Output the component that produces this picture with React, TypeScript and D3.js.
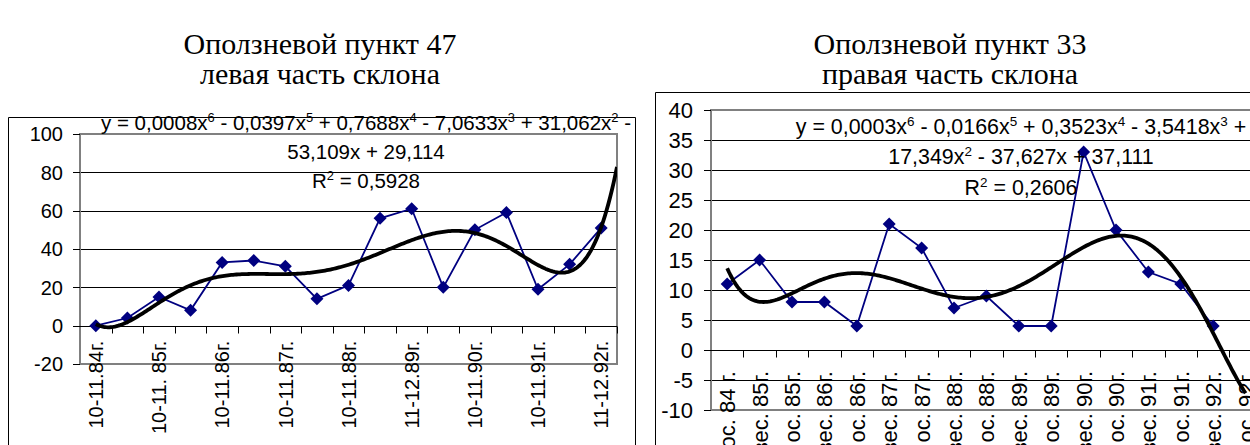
import React from 'react';
import * as d3 from 'd3';

// ---- data ----
const leftValues = [0, 4, 15, 8, 33, 34, 31, 14, 21, 56, 61, 20, 50, 59, 19, 32, 51];
const leftTickLabels = [
  '10-11.84г.', '10-11. 85г.', '10-11.86г.', '10-11.87г.', '10-11.88г.',
  '11-12.89г.', '10-11.90г.', '10-11.91г.', '11-12.92г.',
];
const leftYTicks = [-20, 0, 20, 40, 60, 80, 100];

const rightValues = [11, 15, 8, 8, 4, 21, 17, 7, 9, 4, 4, 33, 20, 13, 11, 4];
const rightTickLabels = [
  'ос. 84 г.', 'вес. 85г.', 'ос. 85г.', 'вес. 86г.', 'ос. 86г.', 'вес. 87г.',
  'ос. 87г.', 'вес. 88г.', 'ос. 88г.', 'вес. 89г.', 'ос. 89г.', 'вес. 90г.',
  'ос. 90г.', 'вес. 91г.', 'ос. 91г.', 'вес. 92г.', 'ос. 92г.',
];
const rightYTicks = [-10, -5, 0, 5, 10, 15, 20, 25, 30, 35, 40];

// equation text: [text, isSuperscript]
type Seg = [string, boolean?];
const leftEquation: Seg[][] = [
  [['y = 0,0008x'], ['6', true], [' - 0,0397x'], ['5', true], [' + 0,7688x'], ['4', true],
    [' - 7,0633x'], ['3', true], [' + 31,062x'], ['2', true], [' -']],
  [['53,109x + 29,114']],
  [['R'], ['2', true], [' = 0,5928']],
];
const rightEquation: Seg[][] = [
  [['y = 0,0003x'], ['6', true], [' - 0,0166x'], ['5', true], [' + 0,3523x'], ['4', true],
    [' - 3,5418x'], ['3', true], [' +']],
  [['17,349x'], ['2', true], [' - 37,627x + 37,111']],
  [['R'], ['2', true], [' = 0,2606']],
];

const leftTitle = ['Оползневой пункт 47', 'левая часть склона'];
const rightTitle = ['Оползневой пункт 33', 'правая часть склона'];

// least squares polynomial (what the spreadsheet trendline does)
function polyfit(xs: number[], ys: number[], deg: number) {
  const n = deg + 1;
  const mid = (d3.min(xs)! + d3.max(xs)!) / 2;
  const half = (d3.max(xs)! - d3.min(xs)!) / 2;
  const A = Array.from({ length: n }, () => new Array(n + 1).fill(0));
  xs.forEach((x, k) => {
    const t = (x - mid) / half;
    const p = d3.range(n).map(i => Math.pow(t, i));
    for (let i = 0; i < n; i++) {
      for (let j = 0; j < n; j++) A[i][j] += p[i] * p[j];
      A[i][n] += p[i] * ys[k];
    }
  });
  for (let c = 0; c < n; c++) {
    let piv = c;
    for (let r = c + 1; r < n; r++) if (Math.abs(A[r][c]) > Math.abs(A[piv][c])) piv = r;
    [A[c], A[piv]] = [A[piv], A[c]];
    for (let r = 0; r < n; r++) {
      if (r === c) continue;
      const f = A[r][c] / A[c][c];
      for (let k = c; k <= n; k++) A[r][k] -= f * A[c][k];
    }
  }
  const coef = A.map((row, i) => row[n] / row[i]);
  return (x: number) => {
    const t = (x - mid) / half;
    return coef.reduce((s, c, i) => s + c * Math.pow(t, i), 0);
  };
}

const AXIS_FONT = '"Liberation Sans", Arial, sans-serif';
const TITLE_FONT = '"Liberation Serif", "Times New Roman", serif';

interface ChartProps {
  id: string;
  frame: { x: number; y: number; right: number };
  plot: { left: number; top: number; right: number; bottom: number };
  yDomain: [number, number];
  yTicks: number[];
  nCats: number;
  values: number[];
  tickLabels: string[];
  labelStep: number;
  labelGap: number;
  tickGap: number;
  fontSize: number;
  eqFontSize: number;
  trendEnd: number;
  equation: Seg[][];
  eqX: number;
  eqY: number[];
  title: string[];
  titleX: number;
}

const Chart: React.FC<ChartProps> = p => {
  const { plot } = p;
  const y = d3.scaleLinear().domain(p.yDomain).range([plot.bottom, plot.top]);
  const cats = d3.range(1, p.nCats + 1);
  const x = d3.scaleBand<number>().domain(cats).range([plot.left, plot.right]);
  const xc = (c: number) => (x(c) || 0) + x.bandwidth() / 2;
  const xl = d3.scaleLinear().domain([0.5, p.nCats + 0.5]).range([plot.left, plot.right]);

  const xs = p.values.map((_, i) => i + 1);
  const fit = polyfit(xs, p.values, 6);
  const trendPts = d3.range(0, 301).map(k => {
    const t = 1 + ((p.trendEnd - 1) * k) / 300;
    return [xl(t), y(fit(t))] as [number, number];
  });
  const line = d3.line();
  const dataPts = p.values.map((v, i) => [xc(i + 1), y(v)] as [number, number]);
  const y0 = Math.round(y(0)) + 0.5;

  return (
    <g>
      {p.title.map((t, i) => (
        <text key={i} x={p.titleX} y={54 + i * 30} textAnchor="middle"
          fontFamily={TITLE_FONT} fontSize={30}>{t}</text>
      ))}
      <path d={`M${p.frame.x + 0.5},450V${p.frame.y + 0.5}H${p.frame.right + 0.5}V450`}
        fill="none" stroke="#000" strokeWidth={1} />
      <clipPath id={`clip-${p.id}`}>
        <rect x={plot.left} y={plot.top - 2} width={plot.right - plot.left} height={plot.bottom - plot.top + 4} />
      </clipPath>
      {/* gridlines */}
      {p.yTicks.map(t => (
        <line key={t} x1={plot.left} x2={plot.right} y1={Math.round(y(t)) + 0.5} y2={Math.round(y(t)) + 0.5}
          stroke="#000" strokeWidth={1} />
      ))}
      {/* plot border */}
      <rect x={plot.left} y={plot.top} width={plot.right - plot.left} height={plot.bottom - plot.top}
        fill="none" stroke="#808080" strokeWidth={2} />
      {/* y ticks */}
      {p.yTicks.map(t => (
        <g key={t}>
          <line x1={plot.left - 7} x2={plot.left} y1={Math.round(y(t)) + 0.5} y2={Math.round(y(t)) + 0.5}
            stroke="#000" strokeWidth={1} />
          <text x={plot.left - p.tickGap} y={y(t)} dy="0.36em" textAnchor="end"
            fontFamily={AXIS_FONT} fontSize={p.fontSize}>{t}</text>
        </g>
      ))}
      {/* x axis at zero */}
      <line x1={plot.left} x2={plot.right} y1={y0} y2={y0} stroke="#000" strokeWidth={1} />
      {cats.map(c => (
        <line key={c} x1={Math.round(x(c)! + x.bandwidth()) + 0.5} x2={Math.round(x(c)! + x.bandwidth()) + 0.5}
          y1={y0} y2={y0 + 7} stroke="#000" strokeWidth={1} />
      ))}
      {p.tickLabels.map((l, i) => {
        const cx = xc(1 + i * p.labelStep);
        const ly = y(0) + p.labelGap;
        return (
          <text key={i} x={cx} y={ly} dy="0.36em" textAnchor="end"
            transform={`rotate(-90,${cx},${ly})`} fontFamily={AXIS_FONT} fontSize={p.fontSize}>{l}</text>
        );
      })}
      {/* series */}
      <g clipPath={`url(#clip-${p.id})`}>
        <path d={line(dataPts) || ''} fill="none" stroke="#000080" strokeWidth={1.8} />
        {dataPts.map(([px, py], i) => (
          <path key={i} d={`M${px},${py - 6.5}L${px + 6.5},${py}L${px},${py + 6.5}L${px - 6.5},${py}Z`}
            fill="#000080" />
        ))}
        <path d={line(trendPts) || ''} fill="none" stroke="#000" strokeWidth={3.8} strokeLinejoin="round" />
      </g>
      {/* trendline label */}
      {p.equation.map((segs, i) => (
        <text key={i} x={p.eqX} y={p.eqY[i]} textAnchor="middle" fontFamily={AXIS_FONT} fontSize={p.eqFontSize}>
          {segs.map(([s, sup], j) =>
            sup ? (
              <tspan key={j} fontSize={p.eqFontSize * 0.63} baselineShift="65%">{s}</tspan>
            ) : (
              <tspan key={j}>{s}</tspan>
            )
          )}
        </text>
      ))}
    </g>
  );
};

export default function App() {
  return (
    <svg width={1250} height={445} style={{ position: 'absolute', left: 0, top: 0, background: '#fff' }}>
      <rect width={1250} height={445} fill="#fff" />
      <Chart
        id="l"
        frame={{ x: 8, y: 117, right: 635 }}
        plot={{ left: 80, top: 134, right: 617, bottom: 364 }}
        yDomain={[-20, 100]}
        yTicks={leftYTicks}
        nCats={leftValues.length}
        values={leftValues}
        tickLabels={leftTickLabels}
        labelStep={2}
        labelGap={15}
        tickGap={17}
        fontSize={20}
        eqFontSize={20.5}
        trendEnd={17.5}
        equation={leftEquation}
        eqX={366}
        eqY={[130, 159, 188]}
        title={leftTitle}
        titleX={320}
      />
      <Chart
        id="r"
        frame={{ x: 655, y: 92, right: 1300 }}
        plot={{ left: 711, top: 110, right: 711 + 17 * 32.4, bottom: 410 }}
        yDomain={[-10, 40]}
        yTicks={rightYTicks}
        nCats={rightTickLabels.length}
        values={rightValues}
        tickLabels={rightTickLabels}
        labelStep={1}
        labelGap={21}
        tickGap={18}
        fontSize={22}
        eqFontSize={21.4}
        trendEnd={17}
        equation={rightEquation}
        eqX={1021}
        eqY={[134, 164, 195]}
        title={rightTitle}
        titleX={950}
      />
    </svg>
  );
}
